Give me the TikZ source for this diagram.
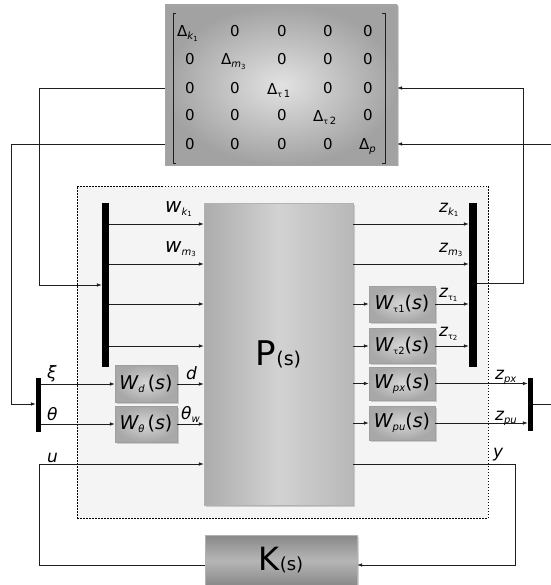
\documentclass[tikz,border=0pt]{standalone}
\usepackage{fontspec}
\setmainfont{DejaVu Sans}
\usetikzlibrary{arrows.meta,shadows}
\definecolor{linec}{HTML}{1E1E1E}
\definecolor{bgc}{HTML}{F4F4F4}
\definecolor{dinner}{HTML}{E2E2E2}
\definecolor{douter}{HTML}{A2A2A2}
\definecolor{winner}{HTML}{D6D6D6}
\definecolor{wouter}{HTML}{A8A8A8}
\definecolor{pleft}{HTML}{ACACAC}
\definecolor{pmid}{HTML}{D2D2D2}
\definecolor{pright}{HTML}{B8B8B8}
\definecolor{ktop}{HTML}{888888}
\definecolor{kmid}{HTML}{B6B6B6}
\newcommand\ssub[2][-3pt]{\raisebox{#1}{\fontsize{10}{10}\selectfont #2}}
\newcommand\sssub[2][-1.5pt]{\raisebox{#1}{\fontsize{7}{7}\selectfont #2}}
\tikzset{
  conn/.style={draw=linec, line width=0.7pt},
  arr/.style={conn, -{Latex[length=5pt,width=3.6pt]}},
  bar/.style={fill=black, draw=none, inner sep=0pt},
  shad/.style={drop shadow={shadow xshift=1.5pt, shadow yshift=-1.5pt, opacity=0.35}},
  wbox/.style={draw=gray!75, line width=0.4pt, inner color=winner, outer color=wouter,
    minimum width=66pt, minimum height=36pt, inner sep=0pt, shad,
    font=\fontsize{19}{19}\selectfont},
  lbl/.style={inner sep=0pt, anchor=base west, font=\fontsize{17}{17}\selectfont\itshape},
  ent/.style={inner sep=0pt, anchor=base, font=\fontsize{15}{15}\selectfont},
  dent/.style={inner sep=0pt, anchor=base west, font=\fontsize{15}{15}\selectfont},
}
\begin{document}
\begin{tikzpicture}[x=1pt,y=-1pt]
\useasboundingbox (0,0) rectangle (550,585);
% frame
\node[draw=black, line width=0.6pt, dash pattern=on 1.5pt off 1.5pt, fill=bgc,
  minimum width=411pt, minimum height=332pt, inner sep=0pt] (frame) at (282.5,352) {};
% Delta box
\node[draw=gray!70, line width=0.4pt, inner color=dinner, outer color=douter, shad,
  minimum width=232pt, minimum height=160pt, inner sep=0pt] (D) at (281,85) {};
\draw[line width=0.7pt, draw=linec] (176,13) -- (173,13) -- (173,163) -- (176,163);
\draw[line width=0.7pt, draw=linec] (382,13) -- (385,13) -- (385,163) -- (382,163);
% matrix entries
\node[dent] (m11) at (177,37) {Δ\ssub{\itshape k\sssub{\upshape 1}}};
\node[ent] (m12) at (235,37) {0};
\node[ent] (m13) at (282,37) {0};
\node[ent] (m14) at (328,37) {0};
\node[ent] (m15) at (368,37) {0};
\node[ent] (m21) at (190,65) {0};
\node[dent] (m22) at (221,65) {Δ\ssub{\itshape m\sssub{\upshape 3}}};
\node[ent] (m23) at (282,65) {0};
\node[ent] (m24) at (328,65) {0};
\node[ent] (m25) at (368,65) {0};
\node[ent] (m31) at (190,94) {0};
\node[ent] (m32) at (235,94) {0};
\node[dent] (m33) at (267,95) {Δ\ssub{{\fontsize{8}{8}\selectfont τ}\,1}};
\node[ent] (m34) at (328,94) {0};
\node[ent] (m35) at (368,94) {0};
\node[ent] (m41) at (190,121) {0};
\node[ent] (m42) at (235,121) {0};
\node[ent] (m43) at (282,121) {0};
\node[dent] (m44) at (313,122) {Δ\ssub{{\fontsize{8}{8}\selectfont τ}\,2}};
\node[ent] (m45) at (368,121) {0};
\node[ent] (m51) at (190,150) {0};
\node[ent] (m52) at (235,150) {0};
\node[ent] (m53) at (282,150) {0};
\node[ent] (m54) at (328,150) {0};
\node[dent] (m55) at (359,150) {Δ\ssub{\itshape p}};
% P and K
\node[draw=gray!60, line width=0.4pt, left color=pleft, right color=pright, middle color=pmid, shad,
  minimum width=149pt, minimum height=302pt, inner sep=0pt] (P) at (278.5,354)
  {\fontsize{34}{34}\selectfont P\fontsize{19}{19}\selectfont(s)};
\node[draw=gray!60, line width=0.4pt, top color=ktop, bottom color=ktop, middle color=kmid, shad,
  minimum width=152pt, minimum height=51pt, inner sep=0pt] (K) at (281,560.5)
  {\fontsize{32}{32}\selectfont K\fontsize{18}{18}\selectfont(s)};
% bars
\node[bar, minimum width=7pt, minimum height=164pt] (lbar) at (105.5,285) {};
\node[bar, minimum width=8pt, minimum height=164pt] (rbar) at (473,285) {};
\node[bar, minimum width=5pt, minimum height=54pt] (slbar) at (38.5,405) {};
\node[bar, minimum width=5pt, minimum height=53pt] (srbar) at (530.5,404.5) {};
% weighting boxes
\node[wbox, minimum width=62pt, minimum height=37pt] (Wd) at (146,383.5)
  {{\itshape W}\ssub{\itshape d}\,({\itshape s})};
\node[wbox, minimum width=62pt] (Wt) at (146,424)
  {{\itshape W}\ssub{\itshape θ}\,({\itshape s})};
\node[wbox] (Wt1) at (402,304) {{\itshape W}\ssub{{\fontsize{8}{8}\selectfont τ}1}({\itshape s})};
\node[wbox, minimum height=35pt] (Wt2) at (402,345.5) {{\itshape W}\ssub{{\fontsize{8}{8}\selectfont τ}2}({\itshape s})};
\node[wbox, minimum height=33pt] (Wpx) at (402,383.5) {{\itshape W}\ssub{\itshape px}({\itshape s})};
\node[wbox, minimum height=34pt] (Wpu) at (402,423) {{\itshape W}\ssub{\itshape pu}({\itshape s})};
% row coordinates
\coordinate (r1) at (0,224);
\coordinate (r2) at (0,264);
\coordinate (r3) at (0,304);
\coordinate (r4) at (0,346);
\coordinate (r5) at (0,384);
\coordinate (r6) at (0,424);
\coordinate (d1) at (0,88);
\coordinate (d2) at (0,144);
\coordinate (c1) at (523,283);
\coordinate (c2) at (551,404);
\coordinate (c3) at (39,285);
\coordinate (c4) at (11,404);
\coordinate (cu) at (39,464);
\coordinate (ck) at (39,565);
\coordinate (cy) at (515,464);
\coordinate (cy2) at (515,565);
% left bar to P
\draw[arr] (lbar.east |- r1) -- (P.west |- r1);
\draw[arr] (lbar.east |- r2) -- (P.west |- r2);
\draw[arr] (lbar.east |- r3) -- (P.west |- r3);
\draw[arr] (lbar.east |- r4) -- (P.west |- r4);
% P to right bar
\draw[arr] (P.east |- r1) -- (rbar.west |- r1);
\draw[arr] (P.east |- r2) -- (rbar.west |- r2);
\draw[arr] (P.east |- r3) -- (Wt1.west |- r3);
\draw[arr] (P.east |- r4) -- (Wt2.west |- r4);
\draw[arr] (P.east |- Wpx.west) -- (Wpx.west);
\draw[arr] (P.east |- Wpu.west) -- (Wpu.west);
\draw[arr] (Wt1.east |- r3) -- (rbar.west |- r3);
\draw[arr] (Wt2.east |- r4) -- (rbar.west |- r4);
\draw[arr] (Wpx.east) -- (srbar.west |- Wpx.east);
\draw[arr] (Wpu.east) -- (srbar.west |- Wpu.east);
% left inputs
\draw[arr] (slbar.east |- r5) -- (Wd.west |- r5);
\draw[arr] (slbar.east |- r6) -- (Wt.west |- r6);
\draw[arr] (Wd.east |- r5) -- (P.west |- r5);
\draw[arr] (Wt.east |- r6) -- (P.west |- r6);
% Delta loops
\draw[arr] (rbar.east |- c1) -- (c1) |- (D.east |- d1);
\draw[arr] (srbar.east |- c2) -- (c2) |- (D.east |- d2);
\draw[arr] (D.west |- d1) -| (c3) -- (lbar.west |- c3);
\draw[arr] (D.west |- d2) -| (c4) -- (slbar.west |- c4);
% controller loop
\draw[arr] (K.west |- ck) -| (cu) -- (P.west |- cu);
\draw[arr] (P.east |- cy) -- (cy) |- (K.east |- cy2);
% labels
\node[lbl, font=\fontsize{20}{20}\selectfont\itshape] (lwk) at (165,212) {w\ssub{k\sssub{\upshape 1}}};
\node[lbl, font=\fontsize{20}{20}\selectfont\itshape] (lwm) at (165,252) {w\ssub{m\sssub{\upshape 3}}};
\node[lbl] (lzk) at (439,212) {z\ssub{k\sssub{\upshape 1}}};
\node[lbl] (lzm) at (439,252) {z\ssub{m\sssub{\upshape 3}}};
\node[lbl] (lzt1) at (439,297) {z\ssub{\upshape\fontsize{8}{8}\selectfont τ\sssub{1}}};
\node[lbl] (lzt2) at (439,336) {z\ssub{\upshape\fontsize{8}{8}\selectfont τ\sssub{2}}};
\node[lbl] (lzpx) at (495,379) {z\ssub{px}};
\node[lbl] (lzpu) at (495,420) {z\ssub{pu}};
\node[lbl] (lxi) at (47,378) {ξ};
\node[lbl] (lth) at (47,420) {θ};
\node[lbl] (ld) at (186,379) {d};
\node[lbl] (lthw) at (181,419) {θ\ssub{w}};
\node[lbl] (lu) at (47,462) {u};
\node[lbl] (ly) at (493,457) {y};
\end{tikzpicture}
\end{document}
